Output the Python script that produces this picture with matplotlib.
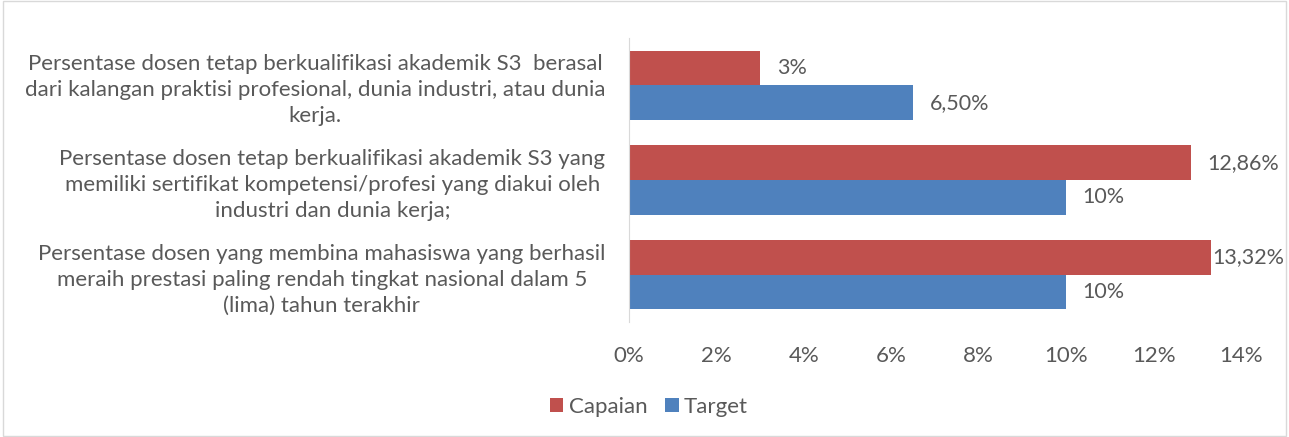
import matplotlib.pyplot as plt
import numpy as np
from matplotlib.patches import Rectangle

plt.rcParams['font.family'] = ['Lato', 'DejaVu Sans']

categories = [
    "Persentase dosen tetap berkualifikasi akademik S3  berasal\ndari kalangan praktisi profesional, dunia industri, atau dunia\nkerja.",
    "Persentase dosen tetap berkualifikasi akademik S3 yang\nmemiliki sertifikat kompetensi/profesi yang diakui oleh\nindustri dan dunia kerja;",
    "Persentase dosen yang membina mahasiswa yang berhasil\nmeraih prestasi paling rendah tingkat nasional dalam 5\n(lima) tahun terakhir",
]
capaian = [3.0, 12.86, 13.32]
target = [6.5, 10.0, 10.0]
capaian_labels = ["3%", "12,86%", "13,32%"]
target_labels = ["6,50%", "10%", "10%"]
xticks = [0, 2, 4, 6, 8, 10, 12, 14]

RED = "#C0504D"
BLUE = "#4F81BD"
GRAY = "#595959"

fig = plt.figure(figsize=(12.89, 4.37), dpi=100)
ax = fig.add_axes([629 / 1289, 1 - 322 / 437, 612 / 1289, 284 / 437])

y = np.arange(len(categories))
h = 0.365
ax.barh(y - h / 2, capaian, height=h, color=RED, label="Capaian")
ax.barh(y + h / 2, target, height=h, color=BLUE, label="Target")


def label_x(v):
    # excel pulls the label back in when it would run past the plot
    return v + 0.02 if v + 0.38 > 13.5 else v + 0.38


for i in range(len(categories)):
    ax.text(label_x(capaian[i]), y[i] - h / 2, capaian_labels[i], va="center", ha="left",
            fontsize=15.5, color=GRAY)
    ax.text(label_x(target[i]), y[i] + h / 2, target_labels[i], va="center", ha="left",
            fontsize=15.5, color=GRAY)

ax.set_ylim(len(categories) - 0.5, -0.5)
ax.set_xlim(0, 14)
ax.set_xticks(xticks)
ax.set_xticklabels([f"{t}%" for t in xticks], fontsize=16, color=GRAY)
ax.set_yticks(y)
ax.set_yticklabels(categories, fontsize=16, color=GRAY, multialignment="center", linespacing=1.38)
ax.tick_params(axis="both", length=0)
ax.tick_params(axis="x", pad=17)
ax.tick_params(axis="y", pad=17)
for s in ["top", "right", "bottom"]:
    ax.spines[s].set_visible(False)
ax.spines["left"].set_color("#D9D9D9")

fig.legend(loc="center", bbox_to_anchor=(649 / 1289, 1 - 407 / 437), ncol=2, frameon=False,
           fontsize=16, handlelength=0.6, handleheight=0.6, handletextpad=0.25, columnspacing=0.8,
           labelcolor=GRAY)

fig.patches.append(Rectangle((0.002, 0.003), 0.996, 0.994, transform=fig.transFigure,
                             fill=False, edgecolor="#D9D9D9", linewidth=1))

fig.savefig("out.png", dpi=100)
